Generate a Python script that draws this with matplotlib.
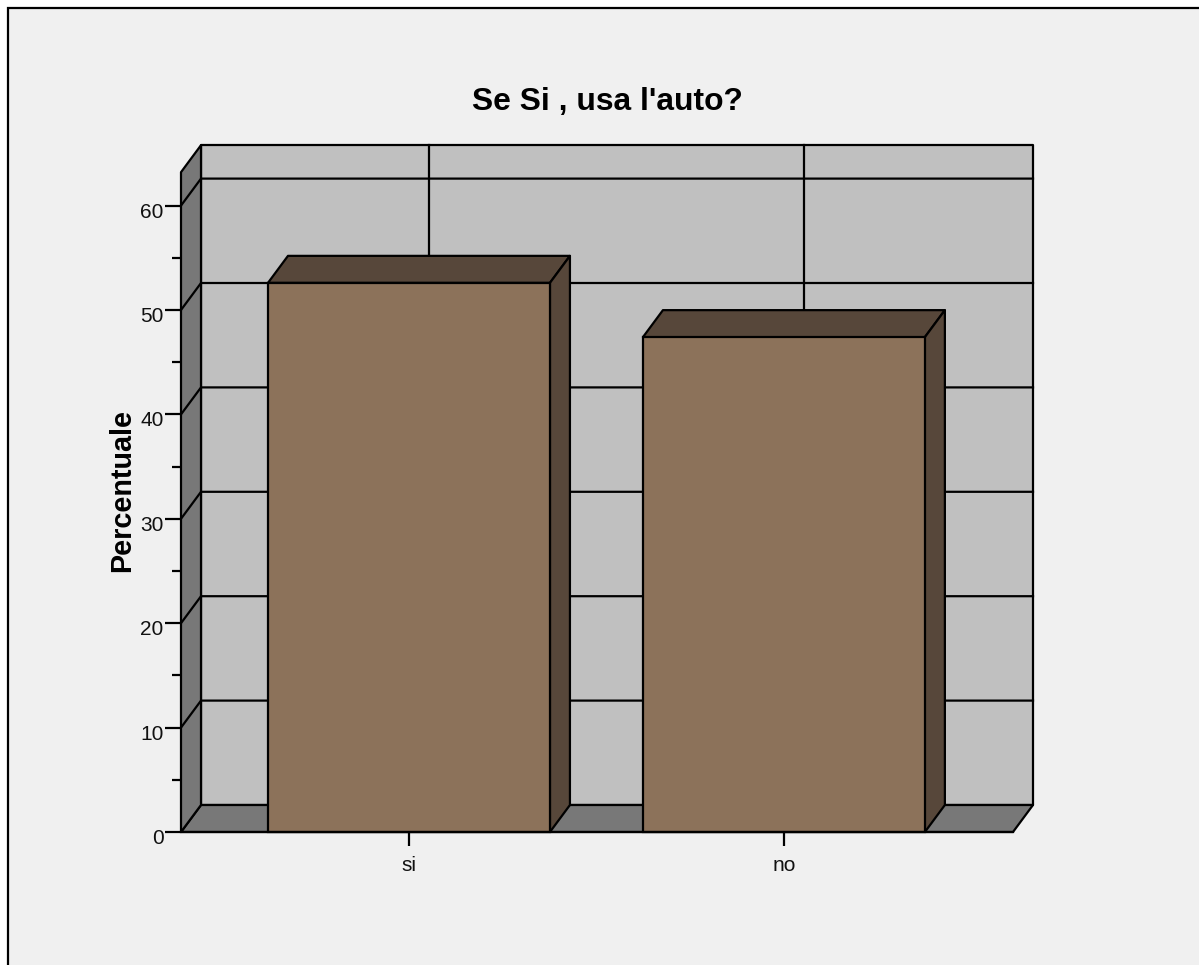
import matplotlib
matplotlib.use('Agg')
import matplotlib.pyplot as plt
from matplotlib.patches import Polygon, Rectangle
from matplotlib.transforms import ScaledTranslation

plt.rcParams['font.family'] = ['Liberation Sans', 'DejaVu Sans']

categories = ['si', 'no']
percent = [52.6, 47.4]
y_major = [0, 10, 20, 30, 40, 50, 60]
y_minor = [5, 15, 25, 35, 45, 55]
title = "Se Si , usa l'auto?"
ylabel = 'Percentuale'

W, H = 1199, 965
bar_w = 0.752
ymax = 63.2
x0, x1 = -0.608, 1.611
dx = 20 / 375      # depth of the 3d box, data units
dy = 27 / 10.44
lw = 1.6

fig = plt.figure(figsize=(W / 100, H / 100), dpi=100, facecolor='white')
# outer frame, runs off the right and bottom edge of the picture
fig.add_artist(Rectangle((8 / W, -0.05), 1.1, 1 - 8 / H + 0.05, transform=fig.transFigure,
                         facecolor='#f0f0f0', edgecolor='black', linewidth=lw, zorder=-1))

ax = fig.add_axes([181 / W, 1 - 832 / H, 832 / W, ymax * 10.44 / H])
ax.patch.set_visible(False)
for s in ax.spines.values():
    s.set_visible(False)
ax.set_xlim(x0, x1)
ax.set_ylim(0, ymax)


def poly(pts, color, z):
    ax.add_patch(Polygon(pts, closed=True, facecolor=color, edgecolor='black',
                         linewidth=lw, joinstyle='round', clip_on=False, zorder=z))


# back wall, floor, side wall
poly([(x0 + dx, dy), (x1 + dx, dy), (x1 + dx, ymax + dy), (x0 + dx, ymax + dy)], '#c0c0c0', 1)
poly([(x0, 0), (x1, 0), (x1 + dx, dy), (x0 + dx, dy)], '#787878', 1)
poly([(x0, 0), (x0 + dx, dy), (x0 + dx, ymax + dy), (x0, ymax)], '#787878', 1)

# grid on the walls
for v in y_major[1:]:
    ax.plot([x0, x0 + dx, x1 + dx], [v, v + dy, v + dy], color='black', lw=lw,
            clip_on=False, zorder=2, solid_joinstyle='round')
for i in range(len(categories)):
    ax.plot([i + dx, i + dx], [dy, ymax + dy], color='black', lw=lw, clip_on=False, zorder=2)

# bars
for i, v in enumerate(percent):
    left, right = i - bar_w / 2, i + bar_w / 2
    poly([(left, v), (right, v), (right + dx, v + dy), (left + dx, v + dy)], '#57473a', 3)
    poly([(right, 0), (right + dx, dy), (right + dx, v + dy), (right, v)], '#57473a', 3)
    ax.bar(i, v, width=bar_w, color='#8c725a', edgecolor='black', linewidth=lw,
           clip_on=False, zorder=4)

ax.plot([x0, x1], [0, 0], color='black', lw=lw, clip_on=False, zorder=5)

ax.set_xticks(range(len(categories)))
ax.set_xticklabels(categories)
ax.set_yticks(y_major)
ax.set_yticks(y_minor, minor=True)
ax.tick_params(axis='y', which='major', length=11.5, width=lw, labelsize=15, pad=1, labelcolor='#111111')
ax.tick_params(axis='y', which='minor', length=6.5, width=lw)
ax.tick_params(axis='x', which='major', length=10, width=lw, labelsize=15, pad=7.5, labelcolor='#111111')

# y tick labels sit a little below their ticks in the original
shift = ScaledTranslation(0, -4.5 / 100, fig.dpi_scale_trans)
for lab in ax.get_yticklabels():
    lab.set_transform(lab.get_transform() + shift)

fig.text(607 / W, 1 - 110 / H, title, fontsize=22.9, fontweight='bold', ha='center', va='baseline')
fig.text(130.5 / W, 1 - 491 / H, ylabel, fontsize=20.7, fontweight='bold', rotation=90,
         ha='center', va='baseline', rotation_mode='anchor')

fig.savefig('out.png', dpi=100)
